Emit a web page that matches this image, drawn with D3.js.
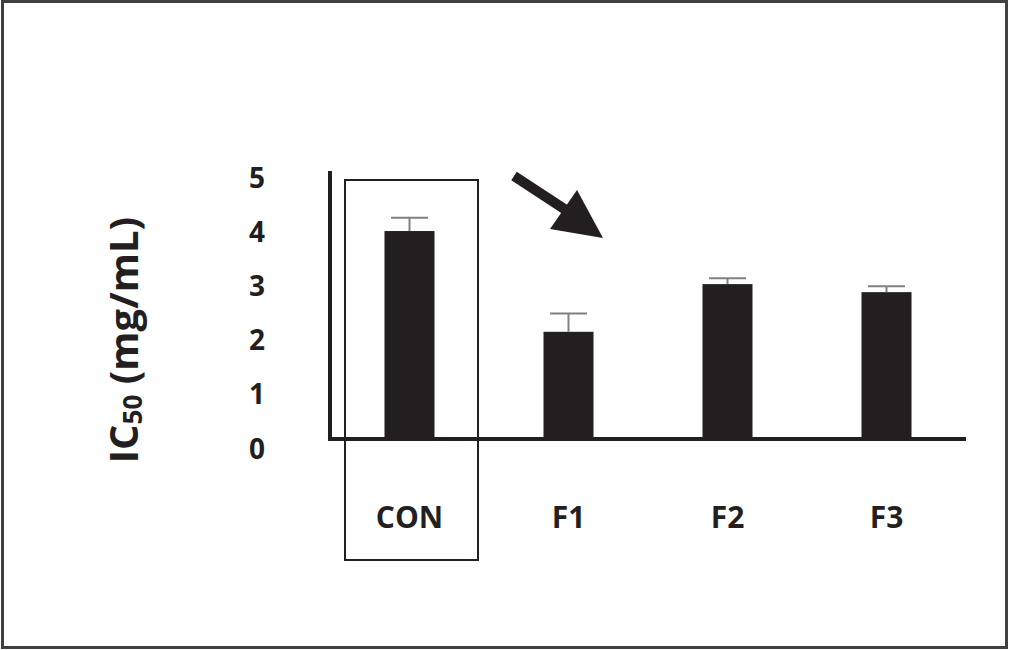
<!DOCTYPE html>
<html>
<head>
<meta charset="utf-8">
<script src="https://cdn.jsdelivr.net/npm/d3@7/dist/d3.min.js"></script>
<style>
  html, body { margin: 0; padding: 0; background: #fff; }
  svg { display: block; }
  text { font-family: "Open Sans", "Noto Sans", sans-serif; font-weight: bold; fill: #231f20; }
</style>
</head>
<body>
<svg id="chart" width="1010" height="650"></svg>
<script>
// Data
const categories = ["CON", "F1", "F2", "F3"];
const values = [3.88, 2.0, 2.89, 2.74];
const errors = [0.25, 0.34, 0.11, 0.11];
const tickValues = [0, 1, 2, 3, 4, 5];
const yTitle = "IC";
const yTitleSub = "50";
const yTitleRest = " (mg/mL)";

const ink = "#231f20";
const svg = d3.select("#chart");

// Outer frame
svg.append("rect")
  .attr("x", 2.5).attr("y", 1.5).attr("width", 1004).attr("height", 646)
  .attr("fill", "none").attr("stroke", "#404040").attr("stroke-width", 3);

const x = d3.scaleBand().domain(categories).range([330, 966])
  .paddingInner(0.6855).paddingOuter(0.6855 / 2);
const y = d3.scaleLinear().domain([0, 5]).range([439, 171]);
const yLabel = d3.scaleLinear().domain([0, 5]).range([448, 177]);

// Highlight box around CON
svg.append("rect")
  .attr("x", 345).attr("y", 180).attr("width", 133).attr("height", 380)
  .attr("fill", "none").attr("stroke", ink).attr("stroke-width", 2);

// Bars
svg.selectAll(".bar").data(categories).join("rect")
  .attr("class", "bar")
  .attr("x", d => x(d))
  .attr("width", x.bandwidth())
  .attr("y", (d, i) => y(values[i]))
  .attr("height", (d, i) => y(0) - y(values[i]))
  .attr("fill", ink);

// Error bars
const eb = svg.selectAll(".err").data(categories).join("g").attr("class", "err");
eb.append("line")
  .attr("x1", d => x(d) + x.bandwidth() / 2).attr("x2", d => x(d) + x.bandwidth() / 2)
  .attr("y1", (d, i) => y(values[i])).attr("y2", (d, i) => y(values[i] + errors[i]))
  .attr("stroke", "#808080").attr("stroke-width", 2);
eb.append("line")
  .attr("x1", d => x(d) + x.bandwidth() / 2 - 18.5).attr("x2", d => x(d) + x.bandwidth() / 2 + 18.5)
  .attr("y1", (d, i) => y(values[i] + errors[i])).attr("y2", (d, i) => y(values[i] + errors[i]))
  .attr("stroke", "#808080").attr("stroke-width", 2);

// Axes lines
svg.append("line")
  .attr("x1", 330).attr("x2", 330).attr("y1", y(5)).attr("y2", y(0) + 2)
  .attr("stroke", ink).attr("stroke-width", 4);
svg.append("line")
  .attr("x1", 328).attr("x2", 966).attr("y1", y(0)).attr("y2", y(0))
  .attr("stroke", ink).attr("stroke-width", 4);

// Y tick labels
const yAxis = svg.append("g").attr("transform", "translate(265,0)")
  .call(d3.axisLeft(yLabel).tickValues(tickValues).tickSize(0).tickPadding(0).tickFormat(d3.format("d")));
yAxis.select(".domain").remove();
yAxis.selectAll("text")
  .attr("font-size", 28).attr("font-family", "Open Sans, sans-serif").attr("font-weight", "bold")
  .attr("fill", ink).attr("dy", "0.36em");

// X category labels
const xAxis = svg.append("g").attr("transform", "translate(0,517)")
  .call(d3.axisBottom(x).tickSize(0).tickPadding(0));
xAxis.select(".domain").remove();
xAxis.selectAll("text")
  .attr("font-size", 30).attr("font-family", "Open Sans, sans-serif").attr("font-weight", "bold")
  .attr("fill", ink).attr("dy", "0.36em");

// Y title
const t = svg.append("text")
  .attr("transform", "translate(138,340) rotate(-90)")
  .attr("text-anchor", "middle")
  .attr("font-size", 40);
t.append("tspan").text(yTitle);
t.append("tspan").attr("font-size", 26).attr("dy", 4).text(yTitleSub);
t.append("tspan").attr("dy", -4).text(yTitleRest);

// Arrow
svg.append("line")
  .attr("x1", 514).attr("y1", 176).attr("x2", 572).attr("y2", 214)
  .attr("stroke", ink).attr("stroke-width", 10);
svg.append("path")
  .attr("d", "M577,190 L550,229 L603,238 Z")
  .attr("fill", ink);
</script>
</body>
</html>
